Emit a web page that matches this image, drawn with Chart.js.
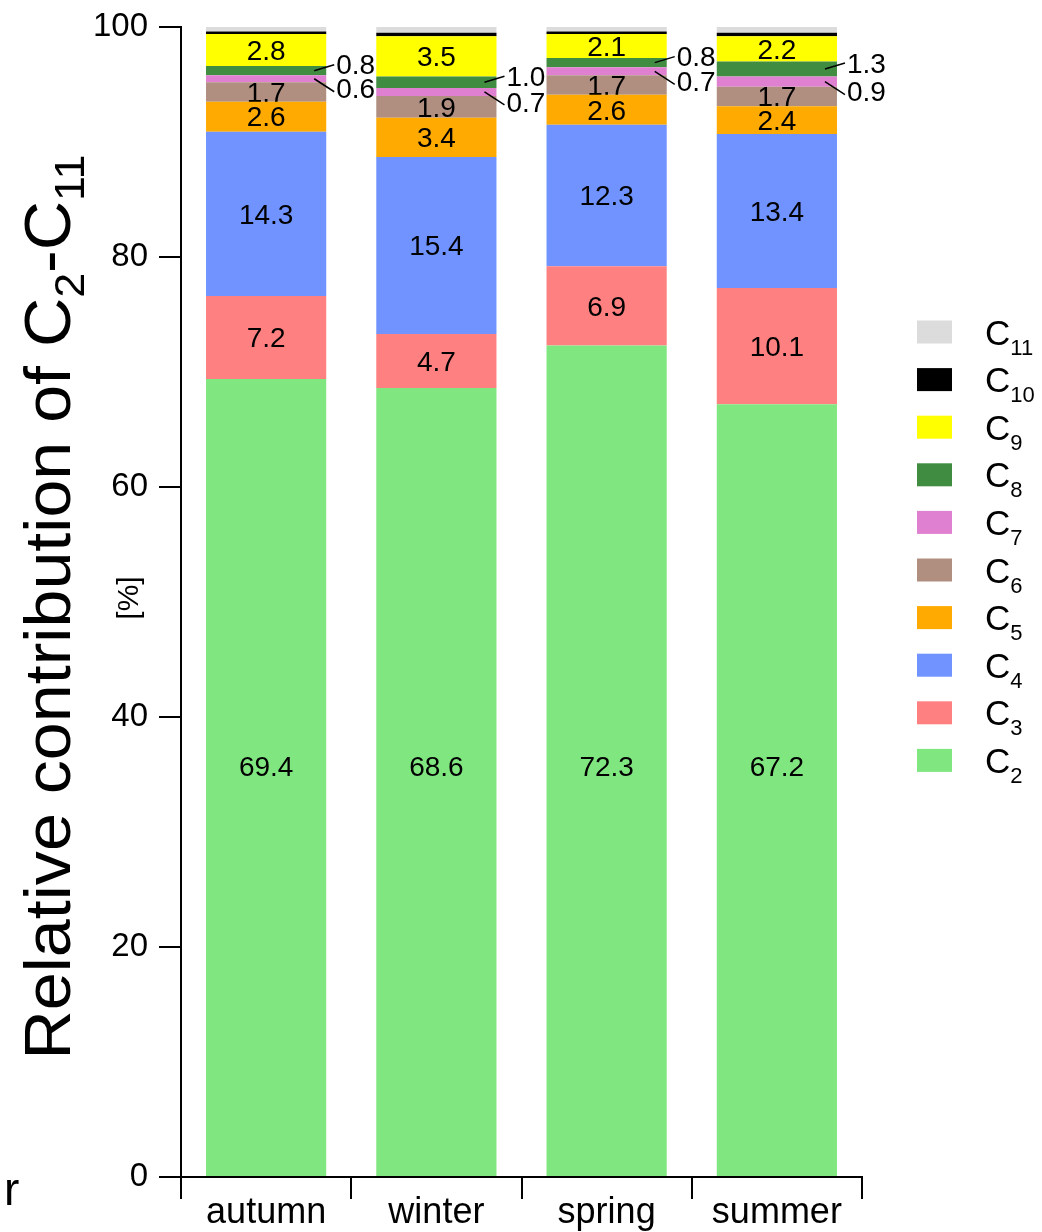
<!DOCTYPE html>
<html>
<head>
<meta charset="utf-8">
<script src="https://cdn.jsdelivr.net/npm/chart.js@4.4.1/dist/chart.umd.min.js"></script>
<style>
  html, body { margin: 0; padding: 0; background: #fff; }
</style>
</head>
<body>
<canvas id="chart" width="1042" height="1232"></canvas>
<script>
// season categories and the share (%) of each carbon number
const seasons = ['autumn', 'winter', 'spring', 'summer'];
const c2  = [69.4, 68.6, 72.3, 67.2];
const c3  = [7.2, 4.7, 6.9, 10.1];
const c4  = [14.3, 15.4, 12.3, 13.4];
const c5  = [2.6, 3.4, 2.6, 2.4];
const c6  = [1.7, 1.9, 1.7, 1.7];
const c7  = [0.6, 0.7, 0.7, 0.9];
const c8  = [0.8, 1.0, 0.8, 1.3];
const c9  = [2.8, 3.5, 2.1, 2.2];
const c10 = [0.2, 0.3, 0.2, 0.3];
const c11 = [0.4, 0.5, 0.4, 0.5];
const seriesSubs = ['2', '3', '4', '5', '6', '7', '8', '9', '10', '11'];
const yTicks = [0, 20, 40, 60, 80, 100];

const seriesData = [c2, c3, c4, c5, c6, c7, c8, c9, c10, c11];
const colors = ['#80e680', '#ff8080', '#7093ff', '#ffaa00', '#b08f80',
                '#e080d0', '#408c40', '#ffff00', '#000000', '#dcdcdc'];
const FONT = '"Liberation Sans", Arial, sans-serif';
const insideIdx = [0, 1, 2, 3, 4, 7];  // C2..C6, C9 labelled inside
const c2LabelLevel = 35.5;             // C2 labels sit on one common line

// draws text with subscript parts
function drawSubText(ctx, parts, x, y, big, small, shift) {
  let cx = x;
  parts.forEach(p => {
    ctx.font = (p.sub ? small : big) + 'px ' + FONT;
    ctx.fillText(p.t, cx, p.sub ? y + shift : y);
    cx += ctx.measureText(p.t).width;
  });
  return cx - x;
}
function measureSub(ctx, parts, big, small) {
  let w = 0;
  parts.forEach(p => {
    ctx.font = (p.sub ? small : big) + 'px ' + FONT;
    w += ctx.measureText(p.t).width;
  });
  return w;
}

const labelsPlugin = {
  id: 'segLabels',
  afterDatasetDraw(chart, args) {
    const i = args.index;
    if (!insideIdx.includes(i)) return;
    const ctx = chart.ctx;
    ctx.save();
    ctx.fillStyle = '#000';
    ctx.font = '28px ' + FONT;
    ctx.textAlign = 'center';
    ctx.textBaseline = 'middle';
    args.meta.data.forEach((bar, j) => {
      const v = seriesData[i][j];
      const y = i === 0 ? chart.scales.y.getPixelForValue(c2LabelLevel) : (bar.y + bar.base) / 2 + 2;
      ctx.fillText(v.toFixed(1), bar.x, y);
    });
    ctx.restore();
  },
  afterDatasetsDraw(chart) {
    const ctx = chart.ctx;
    const m7 = chart.getDatasetMeta(5);
    const m8 = chart.getDatasetMeta(6);
    ctx.save();
    ctx.fillStyle = '#000';
    ctx.strokeStyle = '#000';
    ctx.lineWidth = 1.5;
    ctx.font = '28px ' + FONT;
    ctx.textAlign = 'left';
    ctx.textBaseline = 'middle';
    seasons.forEach((s, j) => {
      const b7 = m7.data[j], b8 = m8.data[j];
      const right = b7.x + b7.width / 2;
      const cy7 = (b7.y + b7.base) / 2, cy8 = (b8.y + b8.base) / 2;
      const y8 = cy8 - 4, y7 = cy7 + 12;
      ctx.beginPath();
      ctx.moveTo(right - 12, cy8); ctx.lineTo(right + 8, y8 - 2);
      ctx.moveTo(right - 12, cy7); ctx.lineTo(right + 8, y7 + 1);
      ctx.stroke();
      ctx.fillText(c8[j].toFixed(1), right + 10, y8);
      ctx.fillText(c7[j].toFixed(1), right + 10, y7);
    });
    ctx.restore();
  },
  afterDraw(chart) {
    const ctx = chart.ctx;
    ctx.save();
    ctx.fillStyle = '#000';
    ctx.textBaseline = 'alphabetic';
    ctx.textAlign = 'left';

    // legend, top entry C11 down to C2
    for (let k = 0; k < 10; k++) {
      const i = 9 - k;
      const cy = 332 + k * 47.6;
      ctx.fillStyle = colors[i];
      ctx.fillRect(917, cy - 11.5, 35, 23);
      ctx.fillStyle = '#000';
      drawSubText(ctx, [{ t: 'C' }, { t: seriesSubs[i], sub: true }], 985, cy + 12.5, 35, 22, 10);
    }

    // y axis title
    const parts = [{ t: 'Relative contribution of C' }, { t: '2', sub: true },
                   { t: '-C' }, { t: '11', sub: true }];
    const w = measureSub(ctx, parts, 64, 42);
    const target = 905;
    ctx.save();
    ctx.translate(70, 607);
    ctx.rotate(-Math.PI / 2);
    ctx.scale(target / w, 1);
    drawSubText(ctx, parts, -w / 2, 0, 64, 42, 14);
    ctx.restore();

    ctx.save();
    ctx.translate(130, 598);
    ctx.rotate(-Math.PI / 2);
    ctx.font = '30px ' + FONT;
    ctx.textAlign = 'center';
    ctx.textBaseline = 'middle';
    ctx.fillText('[%]', 0, 0);
    ctx.restore();

    ctx.font = '46px ' + FONT;
    ctx.fillText('r', 4, 1205);
    ctx.restore();
  }
};

new Chart(document.getElementById('chart'), {
  type: 'bar',
  data: {
    labels: seasons,
    datasets: seriesData.map((d, i) => ({
      label: 'C' + seriesSubs[i],
      data: d,
      backgroundColor: colors[i],
      borderWidth: 0,
      barPercentage: 0.706,
      categoryPercentage: 1.0,
    })),
  },
  options: {
    responsive: false,
    animation: false,
    devicePixelRatio: 1,
    layout: { padding: { top: 27, right: 180, left: 0, bottom: 0 } },
    plugins: {
      legend: { display: false },
      tooltip: { enabled: false },
    },
    scales: {
      x: {
        stacked: true,
        grid: { offset: true, drawOnChartArea: false, tickLength: 22, color: '#000', lineWidth: 2 },
        border: { display: true, color: '#000', width: 2 },
        ticks: { color: '#000', font: { size: 36, family: FONT }, padding: -8, maxRotation: 0 },
        afterFit(scale) { scale.height = 55; scale.paddingLeft = 0; scale.paddingRight = 0; },
      },
      y: {
        stacked: true,
        min: 0,
        max: 100,
        afterBuildTicks(scale) { scale.ticks = yTicks.map(v => ({ value: v })); },
        grid: { drawOnChartArea: false, tickLength: 22, color: '#000', lineWidth: 2 },
        border: { display: true, color: '#000', width: 2 },
        ticks: { color: '#000', font: { size: 33, family: FONT }, padding: 11 },
        afterFit(scale) { scale.width = 181; scale.paddingTop = 0; scale.paddingBottom = 0; },
      },
    },
  },
  plugins: [labelsPlugin],
});
</script>
</body>
</html>
